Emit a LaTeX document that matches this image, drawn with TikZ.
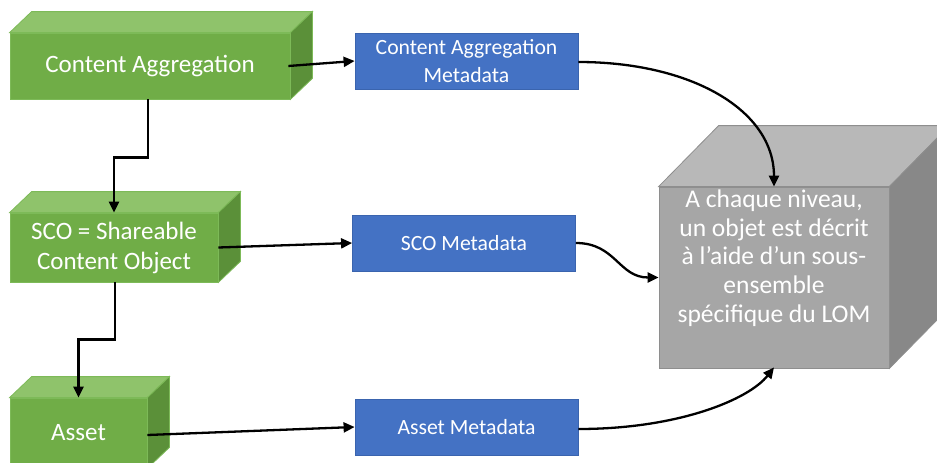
\documentclass[tikz,border=0pt]{standalone}
\usepackage{fontspec}
\setmainfont{Carlito}
\usetikzlibrary{arrows.meta}
\definecolor{frontgreen}{HTML}{70AD47}
\definecolor{topgreen}{HTML}{8FC36B}
\definecolor{sidegreen}{HTML}{5B9039}
\definecolor{linegreen}{HTML}{7DBA58}
\definecolor{frontgray}{HTML}{A6A6A6}
\definecolor{topgray}{HTML}{B8B8B8}
\definecolor{sidegray}{HTML}{888888}
\definecolor{linegray}{HTML}{8E8E8E}
\definecolor{metablue}{HTML}{4472C4}
\definecolor{lineblue}{HTML}{3A64AE}
\begin{document}
\begin{tikzpicture}[x=1pt,y=-1pt,
  level/.style={draw=linegreen,fill=frontgreen,line width=0.8pt,inner sep=0pt,text=white,align=center,font=\fontsize{25}{30}\selectfont},
  meta/.style={draw=lineblue,fill=metablue,line width=0.8pt,minimum width=223pt,minimum height=56pt,inner sep=0pt,text=white,align=center,font=\fontsize{21.7}{28}\selectfont},
  link/.style={line width=2.3pt,-{Triangle[length=11pt,width=10pt]}}]
	\clip (0,0) rectangle (937,463);
	% les trois niveaux
	\node[level,minimum width=280pt,minimum height=66pt] (ca) at (150,66) {Content Aggregation};
	\node[level,minimum width=208pt,minimum height=69pt] (sco) at (114,247.5) {SCO = Shareable\\Content Object};
	\node[level,minimum width=137pt,minimum height=70pt] (asset) at (78.5,433) {Asset};
	% les metadonnees
	\node[meta] (cam) at (466.5,61) {Content Aggregation\\Metadata};
	\node[meta] (scom) at (464,243) {SCO Metadata};
	\node[meta] (assetm) at (466.5,427) {Asset Metadata};
	% le cube
	\node[draw=linegray,fill=frontgray,line width=0.8pt,minimum width=230pt,minimum height=181pt] (lom) at (774,277.5) {};
	\node[text=white,align=center,font=\fontsize{25.5}{28.7}\selectfont] (lomtext) at (774,258)
	  {A chaque niveau,\\un objet est décrit\\à l’aide d’un sous-\\ensemble\\spécifique du LOM};
	% faces du dessus et de cote
	\foreach \n/\dx/\dy/\c in {ca/22/-21/green,sco/22/-21/green,asset/22/-21/green,lom/60/-61/gray}{
	  \filldraw[fill=top\c,draw=line\c,line width=0.8pt] (\n.north west) -- ([shift={(\dx,\dy)}]\n.north west)
	    -- ([shift={(\dx,\dy)}]\n.north east) -- (\n.north east) -- cycle;
	  \filldraw[fill=side\c,draw=line\c,line width=0.8pt] (\n.north east) -- ([shift={(\dx,\dy)}]\n.north east)
	    -- ([shift={(\dx,\dy)}]\n.south east) -- (\n.south east) -- cycle;
	}
	% liens
	\draw[link] ([xshift=-2pt]ca.east) -- (cam.west);
	\draw[link] (sco.east) -- (scom.west);
	\draw[link] ([yshift=-2pt]asset.east) -- (assetm.west);
	\draw[link] ([xshift=-2pt]ca.south) -- ++(0,58) -| (sco.north);
	\draw[link] ([xshift=1pt]sco.south) -- ++(0,57) -| (asset.north);
	\draw[link] ([yshift=-1pt]cam.east) .. controls +(112,0) and +(0,-77) .. (lom.north);
	\draw[link] (scom.east) .. controls +(40,0) and +(-40,0) .. (lom.west);
	\draw[link] ([yshift=-2pt]assetm.east) .. controls +(100,0) and +(-25,32) .. ([yshift=1pt]lom.south);
\end{tikzpicture}
\end{document}
